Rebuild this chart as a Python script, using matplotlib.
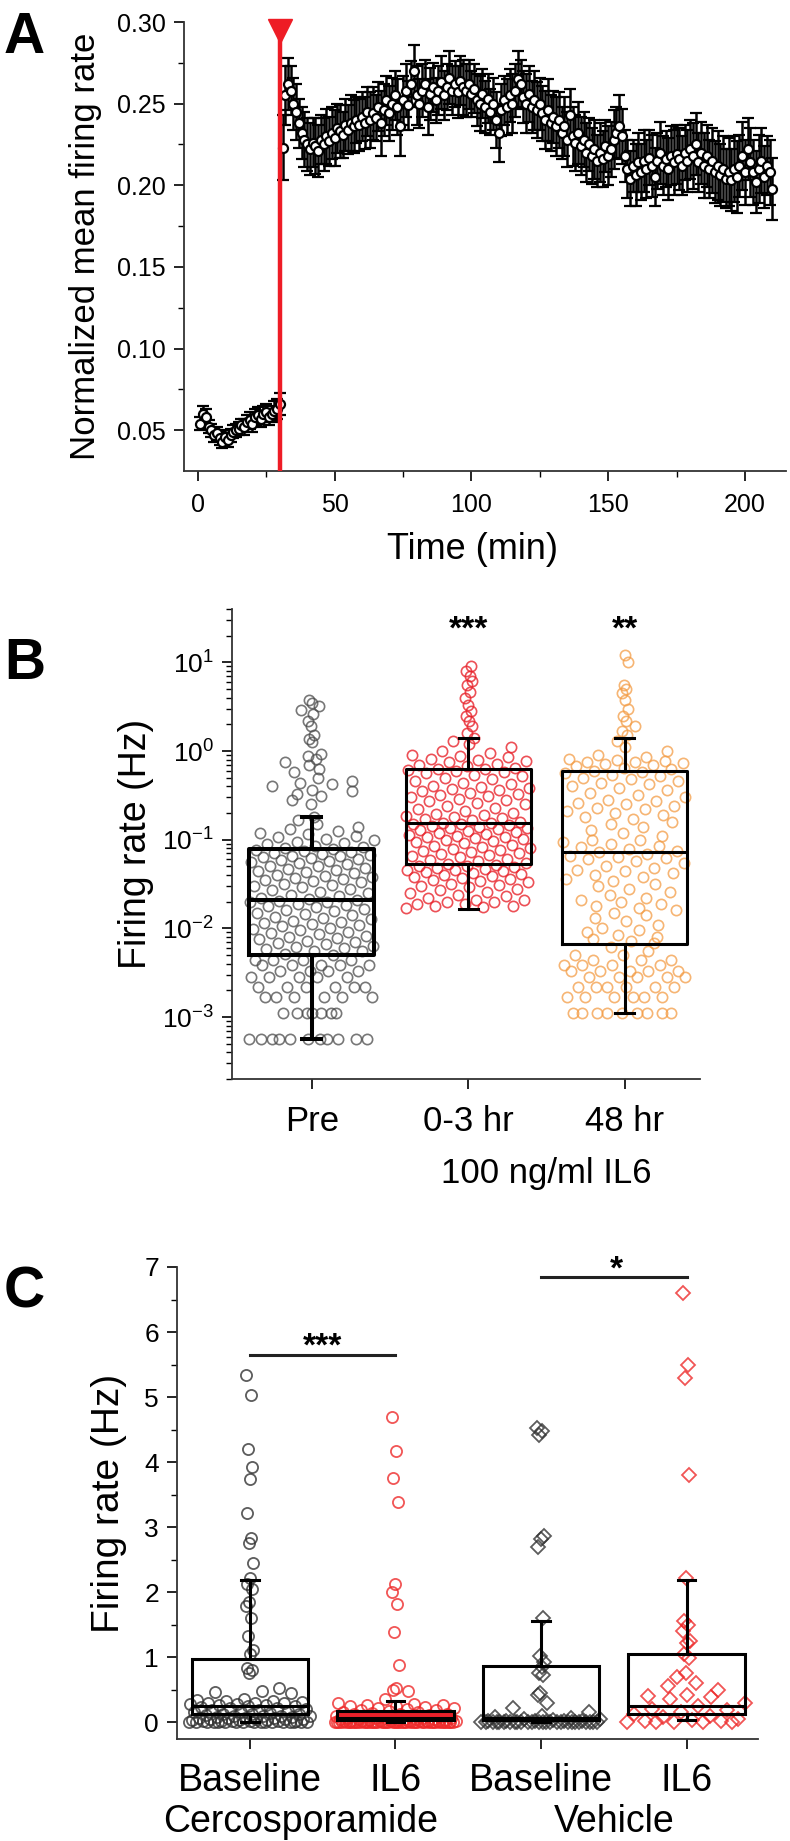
import matplotlib
matplotlib.use('Agg')
import matplotlib.pyplot as plt
import numpy as np

plt.rcParams['font.family'] = ['Liberation Sans', 'DejaVu Sans']
plt.rcParams['mathtext.fontset'] = 'custom'
plt.rcParams['mathtext.rm'] = 'Liberation Sans'

W, H = 790, 1841

# ---------------- panel A: time course ----------------
minutes = np.arange(1, 211)
rate_pre = [0.054, 0.060, 0.058, 0.052, 0.050, 0.047, 0.048, 0.045, 0.043, 0.046,
            0.044, 0.047, 0.049, 0.050, 0.051, 0.053, 0.052, 0.055, 0.056, 0.054,
            0.058, 0.059, 0.057, 0.060, 0.061, 0.058, 0.060, 0.062, 0.063, 0.066]
rate_post = [0.223, 0.255, 0.262, 0.258, 0.250, 0.245, 0.238, 0.232, 0.228, 0.225,
             0.222, 0.226, 0.224, 0.221, 0.228, 0.225, 0.230, 0.227, 0.232, 0.229,
             0.235, 0.233, 0.231, 0.237, 0.234, 0.238, 0.236, 0.240, 0.237, 0.242,
             0.238, 0.245, 0.240, 0.244, 0.241, 0.248, 0.238, 0.246, 0.252, 0.244,
             0.250, 0.255, 0.248, 0.236, 0.252, 0.258, 0.249, 0.262, 0.270, 0.255,
             0.250, 0.258, 0.262, 0.248, 0.256, 0.260, 0.252, 0.258, 0.263, 0.255,
             0.260, 0.266, 0.258, 0.262, 0.257, 0.264, 0.260, 0.258, 0.262, 0.256,
             0.259, 0.252, 0.250, 0.256, 0.248, 0.253, 0.245, 0.250, 0.240, 0.232,
             0.246, 0.252, 0.248, 0.255, 0.250, 0.258, 0.265, 0.262, 0.254, 0.250,
             0.256, 0.248, 0.252, 0.246, 0.250, 0.244, 0.240, 0.246, 0.238, 0.242,
             0.236, 0.240, 0.232, 0.236, 0.228, 0.243, 0.230, 0.226, 0.232, 0.224,
             0.228, 0.220, 0.225, 0.218, 0.222, 0.215, 0.220, 0.216, 0.224, 0.218,
             0.222, 0.228, 0.232, 0.236, 0.230, 0.218, 0.210, 0.204, 0.212, 0.206,
             0.214, 0.208, 0.215, 0.210, 0.217, 0.212, 0.205, 0.215, 0.220, 0.212,
             0.216, 0.210, 0.218, 0.214, 0.219, 0.216, 0.212, 0.220, 0.215, 0.222,
             0.218, 0.225, 0.214, 0.220, 0.212, 0.218, 0.210, 0.215, 0.208, 0.212,
             0.206, 0.210, 0.204, 0.208, 0.203, 0.210, 0.205, 0.212, 0.218, 0.208,
             0.222, 0.214, 0.208, 0.202, 0.210, 0.215, 0.205, 0.212, 0.208, 0.198]
sem_pre = [0.004, 0.005, 0.005, 0.004, 0.004, 0.004, 0.004, 0.004, 0.004, 0.004,
           0.004, 0.004, 0.004, 0.004, 0.004, 0.004, 0.005, 0.004, 0.005, 0.005,
           0.005, 0.005, 0.005, 0.005, 0.005, 0.005, 0.005, 0.006, 0.006, 0.007]
sem_post = [0.020, 0.018, 0.016, 0.015, 0.016, 0.017, 0.015, 0.016, 0.017, 0.016,
            0.016, 0.015, 0.017, 0.016, 0.015, 0.016, 0.017, 0.015, 0.016, 0.017,
            0.015, 0.016, 0.014, 0.016, 0.015, 0.017, 0.016, 0.014, 0.016, 0.015,
            0.016, 0.015, 0.017, 0.016, 0.014, 0.015, 0.020, 0.016, 0.015, 0.017,
            0.016, 0.015, 0.017, 0.018, 0.015, 0.016, 0.015, 0.014, 0.016, 0.018,
            0.015, 0.016, 0.015, 0.017, 0.016, 0.015, 0.014, 0.015, 0.016, 0.015,
            0.014, 0.016, 0.015, 0.014, 0.016, 0.015, 0.017, 0.016, 0.015, 0.014,
            0.015, 0.016, 0.017, 0.015, 0.016, 0.015, 0.014, 0.016, 0.017, 0.018,
            0.016, 0.015, 0.017, 0.016, 0.018, 0.016, 0.017, 0.015, 0.016, 0.018,
            0.017, 0.016, 0.018, 0.017, 0.016, 0.017, 0.018, 0.019, 0.017, 0.016,
            0.018, 0.017, 0.016, 0.018, 0.017, 0.016, 0.018, 0.017, 0.019, 0.018,
            0.017, 0.018, 0.016, 0.017, 0.018, 0.016, 0.018, 0.017, 0.016, 0.018,
            0.017, 0.018, 0.016, 0.019, 0.017, 0.016, 0.018, 0.017, 0.016, 0.019,
            0.018, 0.017, 0.019, 0.018, 0.017, 0.019, 0.018, 0.017, 0.019, 0.018,
            0.017, 0.019, 0.018, 0.020, 0.018, 0.019, 0.018, 0.017, 0.019, 0.018,
            0.020, 0.019, 0.018, 0.019, 0.020, 0.019, 0.018, 0.020, 0.019, 0.021,
            0.019, 0.020, 0.018, 0.021, 0.019, 0.020, 0.022, 0.019, 0.021, 0.020,
            0.019, 0.021, 0.020, 0.019, 0.021, 0.020, 0.019, 0.018, 0.020, 0.019]
il6_time = 30

# ---------------- panel B: firing rate per unit (log) ----------------
b_labels = ['Pre', '0-3 hr', '48 hr']
b_pre = [0.00056, 0.00056, 0.00056, 0.00056, 0.00056, 0.00056, 0.00056, 0.00056, 0.00056, 0.00056, 0.00056,
         0.0011, 0.0011, 0.0011, 0.0011, 0.0011, 0.0011, 0.0011,
         0.0017, 0.0017, 0.0017, 0.0017, 0.0017, 0.0017,
         0.0022, 0.0022, 0.0022, 0.0022, 0.0022, 0.0022,
         0.0028, 0.0028, 0.0028, 0.0028, 0.0028,
         0.0033, 0.0033, 0.0033, 0.0033,
         0.0039, 0.0039, 0.0039, 0.0039, 0.0039,
         0.0044, 0.0044, 0.0044, 0.0044,
         0.0050, 0.0052, 0.0055, 0.0056, 0.0058, 0.0060, 0.0061, 0.0063, 0.0066, 0.0068,
         0.0070, 0.0072, 0.0075, 0.0078, 0.0080, 0.0083, 0.0086, 0.0089, 0.0092, 0.0095,
         0.0098, 0.0102, 0.0105, 0.0108, 0.0112, 0.0115, 0.0119, 0.0122, 0.0126, 0.0130,
         0.0135, 0.0140, 0.0145, 0.0150, 0.0155, 0.0160, 0.0166, 0.0172, 0.0178, 0.0184,
         0.0190, 0.0196, 0.0200, 0.0205, 0.0210,
         0.0215, 0.022, 0.023, 0.024, 0.025, 0.026, 0.027, 0.028, 0.029, 0.030,
         0.031, 0.032, 0.033, 0.034, 0.035, 0.036, 0.037, 0.038, 0.039, 0.040,
         0.042, 0.043, 0.044, 0.045, 0.047, 0.048, 0.050, 0.051, 0.053, 0.054,
         0.056, 0.057, 0.059, 0.060, 0.062, 0.063, 0.065, 0.066, 0.068, 0.069,
         0.071, 0.072, 0.074, 0.076, 0.078,
         0.080, 0.083, 0.086, 0.089, 0.092, 0.095, 0.099, 0.102, 0.106, 0.110,
         0.115, 0.120, 0.126, 0.132, 0.140, 0.150, 0.165, 0.180,
         0.25, 0.28, 0.31, 0.33, 0.35, 0.36, 0.40, 0.42, 0.44, 0.46,
         0.50, 0.58, 0.62, 0.70, 0.75, 0.82, 0.88, 0.92,
         1.25, 1.35, 1.5, 1.9, 2.2, 2.6, 2.9, 3.2, 3.5, 3.75]
b_early = [0.017, 0.0175, 0.018, 0.018, 0.019, 0.019, 0.020, 0.020, 0.021, 0.021,
           0.022, 0.023, 0.024, 0.025, 0.026, 0.027, 0.028, 0.029, 0.030, 0.031,
           0.032, 0.033, 0.034, 0.035, 0.036, 0.037, 0.038, 0.039, 0.040, 0.041,
           0.042, 0.043, 0.044, 0.045, 0.046, 0.047, 0.048, 0.049, 0.050, 0.051,
           0.052, 0.053,
           0.055, 0.057, 0.059, 0.061, 0.063, 0.065, 0.067, 0.069, 0.071, 0.073,
           0.075, 0.077, 0.079, 0.081, 0.083, 0.085, 0.088, 0.091, 0.094, 0.097,
           0.100, 0.102, 0.104, 0.106, 0.108, 0.110, 0.113, 0.116, 0.119, 0.122,
           0.125, 0.128, 0.131, 0.134, 0.137, 0.140, 0.143, 0.146, 0.149, 0.151,
           0.153, 0.155,
           0.16, 0.165, 0.17, 0.175, 0.18, 0.185, 0.19, 0.195, 0.20, 0.21,
           0.22, 0.23, 0.24, 0.25, 0.26, 0.27, 0.28, 0.29, 0.30, 0.31,
           0.32, 0.33, 0.34, 0.35, 0.36, 0.37, 0.38, 0.39, 0.40, 0.42,
           0.44, 0.46, 0.48, 0.50, 0.52, 0.54, 0.56, 0.58, 0.60, 0.61,
           0.62, 0.63,
           0.65, 0.67, 0.70, 0.72, 0.75, 0.78, 0.80, 0.82, 0.85, 0.88,
           0.90, 0.95, 1.0, 1.1, 1.2, 1.3, 1.4, 1.6, 1.9, 2.2,
           2.5, 2.8, 3.3, 4.0, 4.6, 5.5, 6.2, 7.0, 8.0, 9.0]
b_late = [0.0011, 0.0011, 0.0011, 0.0011, 0.0011, 0.0011, 0.0011, 0.0011, 0.0011,
          0.0017, 0.0017, 0.0017, 0.0017, 0.0017, 0.0017,
          0.0022, 0.0022, 0.0022, 0.0022, 0.0022, 0.0022,
          0.0028, 0.0028, 0.0028, 0.0028, 0.0028,
          0.0033, 0.0033, 0.0033, 0.0033, 0.0033,
          0.0039, 0.0039, 0.0039, 0.0039,
          0.0044, 0.0044, 0.0044, 0.0050, 0.0050, 0.0055, 0.0061,
          0.0068, 0.0072, 0.0076, 0.008, 0.0085, 0.009, 0.0095, 0.010, 0.011, 0.012,
          0.013, 0.014, 0.015, 0.016, 0.017, 0.018, 0.019, 0.020, 0.021, 0.022,
          0.024, 0.026, 0.028, 0.030, 0.032, 0.034, 0.036, 0.038, 0.040, 0.042,
          0.044, 0.046, 0.048, 0.051, 0.054, 0.057, 0.060, 0.062, 0.064, 0.066,
          0.069, 0.072,
          0.075, 0.078, 0.082, 0.086, 0.09, 0.094, 0.098, 0.10, 0.11, 0.12,
          0.13, 0.14, 0.15, 0.16, 0.17, 0.18, 0.19, 0.20, 0.21, 0.22,
          0.23, 0.24, 0.25, 0.26, 0.27, 0.28, 0.30, 0.32, 0.34, 0.36,
          0.38, 0.40, 0.42, 0.44, 0.46, 0.48, 0.50, 0.52, 0.54, 0.56,
          0.58, 0.59,
          0.62, 0.65, 0.68, 0.70, 0.72, 0.74, 0.75, 0.76, 0.78, 0.80,
          0.82, 0.85, 0.9, 1.0, 1.1, 1.3, 1.5, 1.7, 1.9, 2.2,
          2.5, 3.0, 3.8, 4.5, 5.0, 5.6, 10.0, 12.0]
b_med = [0.021, 0.155, 0.072]
b_q1 = [0.0050, 0.053, 0.0066]
b_q3 = [0.078, 0.63, 0.59]
b_lo = [0.00056, 0.0167, 0.0011]
b_hi = [0.18, 1.4, 1.4]
b_stars = ['', '***', '**']

# ---------------- panel C: cercosporamide vs vehicle ----------------
c_labels = ['Baseline', 'IL6', 'Baseline', 'IL6']
c_groups = ['Cercosporamide', 'Vehicle']
c_cer_base = [5.34, 5.03, 4.2, 3.92, 3.74, 3.21, 2.83, 2.76, 2.45, 2.21, 2.13, 2.05,
              1.84, 1.78, 1.6, 1.33, 1.11, 1.05, 0.83, 0.80, 0.75, 0.52, 0.48,
              0.46, 0.44, 0.36, 0.34, 0.33, 0.32, 0.31, 0.30, 0.30, 0.29, 0.28, 0.28,
              0.27, 0.26, 0.25, 0.24, 0.23, 0.22, 0.21, 0.20, 0.19, 0.18, 0.17, 0.16,
              0.15, 0.14, 0.13, 0.12, 0.12, 0.11, 0.10, 0.10, 0.09, 0.09, 0.08, 0.08,
              0.07, 0.07, 0.06, 0.06, 0.05, 0.05, 0.04, 0.04, 0.03, 0.03, 0.03, 0.02,
              0.02, 0.02, 0.01, 0.01, 0.01, 0.0, 0.0, 0.0, 0.0, 0.0, 0.0, 0.0,
              0.0, 0.0, 0.0, 0.0, 0.0, 0.0, 0.0, 0.0, 0.0, 0.0]
c_cer_il6 = [4.70, 4.17, 3.75, 3.38, 2.12, 2.00, 1.82, 1.38, 0.88, 0.52, 0.50, 0.48,
             0.35, 0.30, 0.28, 0.27, 0.26, 0.25, 0.24, 0.23, 0.22, 0.21, 0.20, 0.19,
             0.18, 0.17, 0.16, 0.15, 0.14, 0.13, 0.12, 0.12, 0.11, 0.10, 0.10, 0.09,
             0.09, 0.08, 0.08, 0.07, 0.07, 0.06, 0.06, 0.05, 0.05, 0.05, 0.04, 0.04,
             0.04, 0.03, 0.03, 0.03, 0.02, 0.02, 0.02, 0.02, 0.01, 0.01, 0.01, 0.01,
             0.01, 0.01, 0.0, 0.0, 0.0, 0.0, 0.0, 0.0, 0.0, 0.0, 0.0, 0.0,
             0.0, 0.0, 0.0, 0.0, 0.0, 0.0, 0.0, 0.0, 0.0, 0.0, 0.0, 0.0,
             0.0, 0.0, 0.0, 0.0, 0.0, 0.0, 0.0, 0.0, 0.0, 0.0, 0.0, 0.0,
             0.0, 0.0, 0.0, 0.0, 0.0, 0.0, 0.0, 0.0, 0.0, 0.0, 0.0, 0.0]
c_veh_base = [4.52, 4.48, 4.42, 2.87, 2.82, 2.70, 1.60, 1.02, 0.92, 0.85, 0.75, 0.72,
              0.45, 0.42, 0.30, 0.22, 0.15, 0.10, 0.08, 0.06, 0.05, 0.04, 0.03, 0.02,
              0.02, 0.01, 0.01, 0.01, 0.0, 0.0, 0.0, 0.0, 0.0, 0.0, 0.0, 0.0,
              0.0, 0.0, 0.0, 0.0, 0.0, 0.0, 0.0, 0.0, 0.0, 0.0, 0.0, 0.0,
              0.0, 0.0, 0.0, 0.0, 0.0, 0.0]
c_veh_il6 = [6.60, 5.50, 5.30, 3.80, 2.22, 1.55, 1.50, 1.40, 1.25, 1.22, 1.05, 0.98,
             0.75, 0.70, 0.60, 0.55, 0.50, 0.42, 0.40, 0.38, 0.35, 0.30, 0.25, 0.20,
             0.18, 0.15, 0.12, 0.10, 0.08, 0.05, 0.03, 0.02, 0.01, 0.0, 0.0, 0.0,
             0.0, 0.0]
c_med = [0.24, 0.06, 0.06, 0.24]
c_q1 = [0.12, 0.03, 0.03, 0.12]
c_q3 = [0.97, 0.17, 0.87, 1.04]
c_lo = [0.0, 0.0, 0.0, 0.03]
c_hi = [2.18, 0.33, 1.55, 2.18]


def axes_px(fig, left, top, right, bottom):
    return fig.add_axes([left / W, 1 - bottom / H, (right - left) / W, (bottom - top) / H])


def spread(vals, window, halfwidth, log=False):
    # deterministic "density" jitter: wide where points crowd, narrow for sparse outliers
    v = np.asarray(vals, dtype=float)
    if log:
        v = np.log10(v)
    offs = []
    for i, x in enumerate(v):
        n = np.sum(np.abs(v - x) < window)
        frac = ((i * 0.6180339887) % 1.0) - 0.5
        w = np.clip((n - 4) / 6.0, 0.06, 1.0)
        offs.append(2 * frac * halfwidth * w)
    return np.array(offs)


def style_axes(ax):
    for s in ['top', 'right']:
        ax.spines[s].set_visible(False)
    for s in ['left', 'bottom']:
        ax.spines[s].set_linewidth(1.3)
        ax.spines[s].set_color('#333333')


def box_stats(med, q1, q3, lo, hi):
    return [dict(med=m, q1=a, q3=b, whislo=l, whishi=h, fliers=[])
            for m, a, b, l, h in zip(med, q1, q3, lo, hi)]


fig = plt.figure(figsize=(W / 100, H / 100), dpi=100)

# ===== A =====
axA = axes_px(fig, 184, 22, 786, 471)
style_axes(axA)
rate = np.array(rate_pre + rate_post)
sem = np.array(sem_pre + sem_post)
axA.errorbar(minutes, rate, yerr=sem, fmt='o', ms=6.5, mfc='white', mec='black',
             mew=1.6, ecolor='black', elinewidth=1.8, capsize=4, capthick=1.8, zorder=3)
axA.axvline(il6_time, color='#ee1c25', lw=3.2, zorder=5)
axA.plot([il6_time], [0.2945], marker='v', ms=17, color='#ee1c25', clip_on=False, zorder=6)
axA.set_xlim(-5, 215)
axA.set_ylim(0.025, 0.30)
axA.set_xticks([0, 50, 100, 150, 200])
axA.set_xticks([25, 75, 125, 175], minor=True)
axA.set_yticks([0.05, 0.10, 0.15, 0.20, 0.25, 0.30])
axA.set_yticklabels(['0.05', '0.10', '0.15', '0.20', '0.25', '0.30'])
axA.set_yticks([0.075, 0.125, 0.175, 0.225, 0.275], minor=True)
axA.tick_params(which='major', direction='out', length=7, width=1.2, labelsize=18, pad=6)
axA.tick_params(which='minor', direction='out', length=4, width=1.0)
axA.tick_params(axis='x', which='major', pad=9)
axA.set_xlabel('Time (min)', fontsize=26)
axA.xaxis.set_label_coords(0.48, -0.174)
axA.xaxis.label.set_va('center')
axA.set_ylabel('Normalized mean firing rate', fontsize=25)
axA.yaxis.set_label_coords(-0.163, 0.5)
axA.yaxis.label.set_va('center')

# ===== B =====
axB = axes_px(fig, 232, 609, 700, 1079)
style_axes(axB)
axB.set_yscale('log')
b_colors = [('#4a4a4a', 0.75), ('#e8242c', 0.8), ('#f39c45', 0.75)]
for i, vals in enumerate([b_pre, b_early, b_late]):
    col, al = b_colors[i]
    xs = i + 1 + spread(vals, 0.12, 0.40, log=True)
    axB.plot(xs, vals, 'o', ls='none', ms=7.4, mfc='none', mec=col, mew=1.2, alpha=al, zorder=2)
statsB = box_stats(b_med, b_q1, b_q3, b_lo, b_hi)
for i, st in enumerate(statsB):
    lw = 2.9 if i == 0 else 2.2
    axB.bxp([st], positions=[i + 1], widths=0.8, capwidths=0.12, showfliers=False,
            boxprops=dict(color='black', lw=lw), medianprops=dict(color='black', lw=lw),
            whiskerprops=dict(color='black', lw=lw), capprops=dict(color='black', lw=lw),
            manage_ticks=False, zorder=4)
for i, s in enumerate(b_stars):
    if s:
        axB.text(i + 1, 0.955, s, transform=axB.get_xaxis_transform(), ha='center',
                 va='center', fontsize=24, fontweight='bold')
axB.set_xlim(0.49, 3.48)
axB.set_ylim(2e-4, 40)
axB.set_xticks([1, 2, 3])
axB.set_xticklabels(b_labels)
axB.tick_params(which='major', direction='out', length=7, width=1.2, pad=6)
axB.tick_params(axis='y', which='major', labelsize=19)
axB.tick_params(axis='x', which='major', labelsize=25, pad=12)
axB.tick_params(which='minor', direction='out', length=4, width=1.0)
axB.set_ylabel('Firing rate (Hz)', fontsize=27)
axB.yaxis.set_label_coords(-0.205, 0.5)
axB.yaxis.label.set_va('center')
axB.text(2.5, -0.2, '100 ng/ml IL6', transform=axB.get_xaxis_transform(),
         ha='center', va='center', fontsize=25)

# ===== C =====
axC = axes_px(fig, 177, 1267, 758, 1739)
style_axes(axC)
c_sets = [(c_cer_base, 'o', '#333333', 0.8), (c_cer_il6, 'o', '#ee2a2a', 0.8),
          (c_veh_base, 'D', '#333333', 0.8), (c_veh_il6, 'D', '#ee2a2a', 0.8)]
for i, (vals, mk, col, al) in enumerate(c_sets):
    xs = i + 1 + spread(vals, 0.2, 0.42)
    ms = 8 if mk == 'o' else 6.8
    axC.plot(xs, vals, mk, ls='none', ms=ms, mfc='none', mec=col, mew=1.3, alpha=al, zorder=2)
statsC = box_stats(c_med, c_q1, c_q3, c_lo, c_hi)
for i, st in enumerate(statsC):
    fill = '#e8202a' if i == 1 else 'none'
    axC.bxp([st], positions=[i + 1], widths=0.8, capwidths=0.12, showfliers=False,
            patch_artist=True,
            boxprops=dict(facecolor=fill, edgecolor='black', lw=2.2),
            medianprops=dict(color='black', lw=2.2),
            whiskerprops=dict(color='black', lw=2.2), capprops=dict(color='black', lw=2.2),
            manage_ticks=False, zorder=4)
axC.plot([1, 2], [5.65, 5.65], color='#222222', lw=2.2)
axC.text(1.5, 5.77, '***', ha='center', va='center', fontsize=24, fontweight='bold')
axC.plot([3, 4], [6.85, 6.85], color='#222222', lw=2.2, clip_on=False)
axC.text(3.52, 6.95, '*', ha='center', va='center', fontsize=24, fontweight='bold', clip_on=False)
axC.set_xlim(0.5, 4.49)
axC.set_ylim(-0.26, 7)
axC.set_xticks([1, 2, 3, 4])
axC.set_xticklabels(c_labels)
axC.set_yticks(range(0, 8))
axC.set_yticks(np.arange(0.5, 7, 1.0), minor=True)
axC.tick_params(which='major', direction='out', length=7, width=1.2, pad=6)
axC.tick_params(axis='y', which='major', labelsize=19)
axC.tick_params(axis='x', which='major', labelsize=27, pad=10)
axC.tick_params(which='minor', direction='out', length=4, width=1.0)
axC.set_ylabel('Firing rate (Hz)', fontsize=28)
axC.yaxis.set_label_coords(-0.117, 0.5)
axC.yaxis.label.set_va('center')
axC.text(1.35, -0.175, c_groups[0], transform=axC.get_xaxis_transform(),
         ha='center', va='center', fontsize=27)
axC.text(3.5, -0.175, c_groups[1], transform=axC.get_xaxis_transform(),
         ha='center', va='center', fontsize=27)

# panel letters
for lab, base in [('A', 53), ('B', 679), ('C', 1308)]:
    fig.text(4 / W, 1 - base / H, lab, fontsize=41, fontweight='bold', ha='left', va='baseline')

fig.savefig('out.png', dpi=100)
